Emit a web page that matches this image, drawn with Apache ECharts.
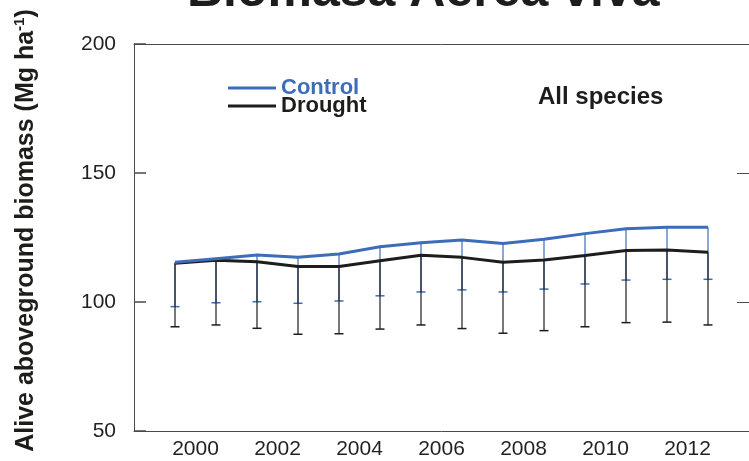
<!DOCTYPE html>
<html>
<head>
<meta charset="utf-8">
<script src="https://cdn.jsdelivr.net/npm/echarts@6.0.0/dist/echarts.min.js"></script>
<style>
  html, body { margin: 0; padding: 0; background: #fff; }
  #main { width: 749px; height: 461px; }
</style>
</head>
<body>
<div id="main"></div>
<script>
// yearly sampling positions (points sit between the labelled years)
var years = [1999.5, 2000.5, 2001.5, 2002.5, 2003.5, 2004.5, 2005.5, 2006.5, 2007.5, 2008.5, 2009.5, 2010.5, 2011.5, 2012.5];
var yearLabels = [2000, 2002, 2004, 2006, 2008, 2010, 2012];

// mean alive aboveground biomass (Mg/ha)
var controlMean = [115.4, 116.8, 118.2, 117.3, 118.6, 121.4, 123.0, 124.0, 122.7, 124.3, 126.5, 128.4, 129.0, 129.0];
var droughtMean = [115.0, 116.2, 115.6, 113.8, 113.8, 116.0, 118.1, 117.3, 115.4, 116.3, 118.0, 120.0, 120.2, 119.3];
// lower end of the error bars
var controlLow = [98.2, 99.7, 100.1, 99.5, 100.4, 102.4, 103.9, 104.7, 103.9, 105.0, 107.0, 108.5, 108.8, 108.8];
var droughtLow = [90.4, 91.1, 89.8, 87.5, 87.7, 89.5, 91.1, 89.7, 87.9, 88.9, 90.4, 92.0, 92.2, 91.1];

var blue = '#3d6cb9';
var black = '#1d1d1b';
var axisColor = '#4a4a4a';

function pairs(a, b) {
  return years.map(function (x, i) { return b ? [x, a[i], b[i]] : [x, a[i]]; });
}

// vertical bar from mean down to lower value, with a small cap
function errorBar(color) {
  return function (params, api) {
    var x = api.value(0);
    var top = api.coord([x, api.value(1)]);
    var bot = api.coord([x, api.value(2)]);
    return {
      type: 'group',
      children: [
        { type: 'line', shape: { x1: top[0], y1: top[1], x2: bot[0], y2: bot[1] }, style: { stroke: color, lineWidth: 1.2 } },
        { type: 'line', shape: { x1: bot[0] - 4.5, y1: bot[1], x2: bot[0] + 4.5, y2: bot[1] }, style: { stroke: color, lineWidth: 1.5 } }
      ]
    };
  };
}

var myChart = echarts.init(document.getElementById('main'));

var option = {
  animation: false,
  textStyle: { fontFamily: 'Liberation Sans, Arial, sans-serif' },
  grid: { left: 134, right: -4.5, top: 44, bottom: 30 },
  graphic: [
    {
      type: 'text', left: 187, top: -33,
      style: { text: 'Biomasa Aérea viva', font: 'bold 50px "Liberation Sans", Arial, sans-serif', fill: black }
    },
    {
      type: 'text', left: 538, top: 85,
      style: { text: 'All species', font: 'bold 24px "Liberation Sans", Arial, sans-serif', fill: black }
    }
  ],
  legend: {
    orient: 'vertical',
    left: 228, top: 77, padding: 0,
    itemWidth: 48, itemHeight: 3, itemGap: -4,
    icon: 'rect',
    textStyle: { fontSize: 22, fontWeight: 'bold', lineHeight: 18 },
    data: [
      { name: 'Control', textStyle: { color: blue } },
      { name: 'Drought', textStyle: { color: black } }
    ]
  },
  xAxis: [
    {
      type: 'value', min: 1998.5, max: 2013.5,
      axisLine: { lineStyle: { color: axisColor, width: 1 } },
      axisTick: { show: false },
      splitLine: { show: false },
      axisLabel: { customValues: yearLabels, fontSize: 21, color: '#231f20', margin: 8, formatter: function (v) { return String(v); } }
    },
    {
      type: 'value', position: 'top', min: 1998.5, max: 2013.5,
      axisLine: { show: true, lineStyle: { color: axisColor, width: 1 } },
      axisTick: { show: false }, axisLabel: { show: false }, splitLine: { show: false }
    }
  ],
  yAxis: [
    {
      type: 'value', position: 'left', min: 50, max: 200, interval: 50,
      name: '{a|Alive aboveground biomass (Mg ha}{s|-1}{a|)}',
      nameLocation: 'middle', nameRotate: 90, nameGap: 94,
      nameTextStyle: {
        padding: [0, 0, 0, 14],
        rich: {
          a: { fontSize: 25, fontWeight: 'bold', color: black, lineHeight: 28 },
          s: { fontSize: 15, fontWeight: 'bold', color: black, verticalAlign: 'top', lineHeight: 28 }
        }
      },
      axisLine: { show: true, lineStyle: { color: axisColor, width: 1 } },
      axisTick: { show: true, inside: true, length: 12, lineStyle: { color: axisColor, width: 1.5 } },
      splitLine: { show: false },
      axisLabel: { fontSize: 21, color: '#231f20', margin: 18 }
    },
    {
      type: 'value', position: 'right', min: 50, max: 200, interval: 50,
      axisLine: { show: true, lineStyle: { color: axisColor, width: 1 } },
      axisTick: { show: true, inside: true, length: 12, lineStyle: { color: axisColor } },
      axisLabel: { show: false }, splitLine: { show: false }
    }
  ],
  series: [
    { name: 'Control err', type: 'custom', renderItem: errorBar(blue), data: pairs(controlMean, controlLow), z: 2 },
    { name: 'Drought err', type: 'custom', renderItem: errorBar(black), data: pairs(droughtMean, droughtLow), z: 3 },
    { name: 'Control', type: 'line', data: pairs(controlMean), showSymbol: false, color: blue, lineStyle: { width: 3, color: blue }, z: 5 },
    { name: 'Drought', type: 'line', data: pairs(droughtMean), showSymbol: false, color: black, lineStyle: { width: 3, color: black }, z: 4 }
  ]
};

myChart.setOption(option);
</script>
</body>
</html>
